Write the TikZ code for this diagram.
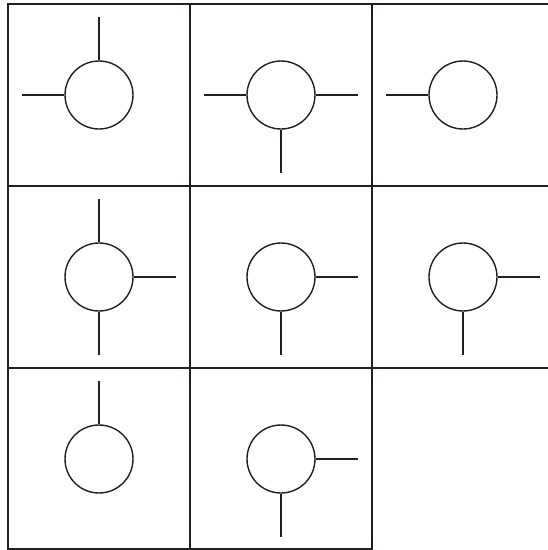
\documentclass[tikz,border=0pt]{standalone}
\definecolor{ink}{HTML}{231F20}
\tikzset{
  gridline/.style={draw=ink, line width=2.2pt, line cap=rect},
  valve/.style={circle, draw=ink, line width=1.4pt, minimum size=68pt, inner sep=0pt},
  stub/.style={draw=ink, line width=1.4pt}
}
\begin{document}
\begin{tikzpicture}[x=1pt,y=-1pt]
\useasboundingbox (0,0) rectangle (548,550);
\clip (0,0) rectangle (548,550);
% grid
\draw[gridline] (8,4) -- (548,4);
\draw[gridline] (8,186) -- (548,186);
\draw[gridline] (8,368) -- (548,368);
\draw[gridline] (8,549) -- (372,549);
\draw[gridline] (8,4) -- (8,549);
\draw[gridline] (190,4) -- (190,549);
\draw[gridline] (372,4) -- (372,549);
% circles
\node[valve] (c11) at (99,95) {};
\node[valve] (c12) at (281,95) {};
\node[valve] (c13) at (463,95) {};
\node[valve] (c21) at (99,277) {};
\node[valve] (c22) at (281,277) {};
\node[valve] (c23) at (463,277) {};
\node[valve] (c31) at (99,459) {};
\node[valve] (c32) at (281,459) {};
% stubs
\draw[stub] (c11.north) -- ++(0,-43);
\draw[stub] (c11.west) -- ++(-42,0);
\draw[stub] (c12.west) -- ++(-42,0);
\draw[stub] (c12.east) -- ++(42,0);
\draw[stub] (c12.south) -- ++(0,43);
\draw[stub] (c13.west) -- ++(-42,0);
\draw[stub] (c21.north) -- ++(0,-43);
\draw[stub] (c21.east) -- ++(42,0);
\draw[stub] (c21.south) -- ++(0,43);
\draw[stub] (c22.east) -- ++(42,0);
\draw[stub] (c22.south) -- ++(0,43);
\draw[stub] (c23.east) -- ++(42,0);
\draw[stub] (c23.south) -- ++(0,43);
\draw[stub] (c31.north) -- ++(0,-43);
\draw[stub] (c32.east) -- ++(42,0);
\draw[stub] (c32.south) -- ++(0,43);
\end{tikzpicture}
\end{document}
